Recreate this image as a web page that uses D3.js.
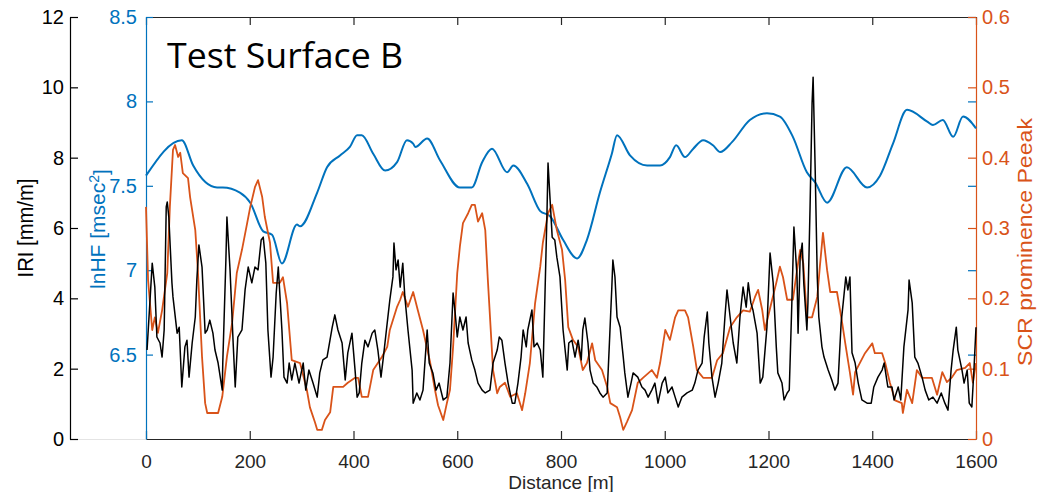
<!DOCTYPE html>
<html><head><meta charset="utf-8">
<script src="https://cdn.jsdelivr.net/npm/d3@7"></script>
<style>
html,body{margin:0;padding:0;background:#fff;}
svg{display:block;font-family:"Liberation Sans",Arial,Helvetica,sans-serif;}
</style>
</head><body>
<svg id="chart" width="1038" height="492"></svg>
<script>
// ---------- data ----------
const titleText = "Test Surface B";
const xTicks = [0, 200, 400, 600, 800, 1000, 1200, 1400, 1600];
const iriTicks = [0, 2, 4, 6, 8, 10, 12];
const hfTicks = [6.5, 7, 7.5, 8, 8.5];
const scrTicks = [0, 0.1, 0.2, 0.3, 0.4, 0.5, 0.6];

// [distance m, lnHF msec^2]
const lnHF = [
 [0,7.56],[69,7.77],[91,7.62],[137,7.49],[148,7.49],[181,7.46],[201,7.40],[226,7.23],[243,7.21],[262,7.04],
 [291,7.27],[297,7.26],[330,7.46],[349,7.61],[374,7.68],[393,7.73],[407,7.80],[416,7.80],[438,7.69],[461,7.59],
 [484,7.64],[503,7.77],[515,7.75],[519,7.73],[542,7.78],[567,7.65],[605,7.49],[628,7.49],[648,7.64],[667,7.72],
 [696,7.58],[708,7.62],[735,7.51],[760,7.35],[779,7.32],[804,7.18],[831,7.07],[850,7.18],[875,7.46],[898,7.69],
 [908,7.80],[933,7.68],[966,7.62],[991,7.62],[1010,7.67],[1022,7.74],[1039,7.67],[1055,7.72],[1074,7.77],[1093,7.74],
 [1107,7.70],[1130,7.76],[1164,7.89],[1197,7.93],[1222,7.91],[1247,7.79],[1274,7.58],[1290,7.52],[1313,7.40],[1351,7.61],
 [1390,7.49],[1415,7.56],[1440,7.75],[1467,7.95],[1506,7.88],[1517,7.86],[1536,7.89],[1556,7.79],[1575,7.91],[1600,7.84]
];

// [distance m, SCR prominence peak]
const scrPeak = [
 [0,0.330],[4,0.226],[12,0.155],[17,0.173],[23,0.151],[31,0.183],[41,0.236],[46,0.330],[52,0.411],[56,0.418],
 [62,0.401],[66,0.407],[71,0.378],[81,0.371],[85,0.344],[95,0.297],[100,0.240],[108,0.117],[114,0.051],[118,0.037],
 [139,0.037],[147,0.060],[156,0.117],[166,0.165],[175,0.236],[185,0.269],[195,0.307],[201,0.330],[210,0.358],[216,0.368],
 [224,0.344],[229,0.316],[239,0.279],[245,0.222],[258,0.222],[264,0.230],[272,0.193],[281,0.112],[297,0.108],[310,0.070],
 [316,0.045],[326,0.023],[330,0.013],[339,0.013],[345,0.027],[355,0.038],[361,0.074],[380,0.074],[389,0.080],[403,0.087],
 [409,0.087],[416,0.060],[428,0.060],[438,0.098],[455,0.117],[465,0.131],[470,0.155],[484,0.188],[490,0.198],[495,0.209],
 [505,0.188],[515,0.209],[524,0.183],[534,0.155],[548,0.108],[557,0.070],[563,0.048],[573,0.027],[580,0.051],[586,0.070],
 [592,0.131],[600,0.236],[605,0.273],[611,0.307],[621,0.321],[628,0.333],[634,0.333],[640,0.309],[648,0.321],[654,0.297],
 [659,0.226],[669,0.098],[677,0.065],[682,0.074],[692,0.080],[702,0.060],[715,0.065],[725,0.041],[731,0.065],[740,0.108],
 [750,0.193],[760,0.245],[765,0.279],[775,0.321],[783,0.333],[792,0.297],[802,0.269],[808,0.226],[814,0.159],[823,0.141],
 [833,0.131],[842,0.098],[850,0.108],[860,0.136],[866,0.112],[879,0.098],[889,0.074],[895,0.051],[908,0.045],[914,0.031],
 [920,0.013],[927,0.024],[937,0.041],[948,0.080],[958,0.087],[975,0.098],[985,0.087],[991,0.108],[1001,0.155],[1010,0.141],
 [1020,0.173],[1026,0.183],[1039,0.183],[1045,0.173],[1055,0.131],[1062,0.098],[1074,0.087],[1091,0.087],[1101,0.112],[1112,0.122],
 [1126,0.159],[1139,0.173],[1151,0.183],[1164,0.181],[1174,0.202],[1180,0.212],[1188,0.183],[1193,0.155],[1207,0.198],[1215,0.222],
 [1222,0.245],[1228,0.230],[1236,0.198],[1247,0.198],[1255,0.240],[1261,0.269],[1267,0.250],[1274,0.173],[1284,0.173],[1294,0.202],
 [1299,0.245],[1305,0.293],[1313,0.240],[1319,0.209],[1332,0.209],[1342,0.165],[1348,0.136],[1357,0.094],[1363,0.063],[1367,0.095],
 [1376,0.108],[1386,0.122],[1400,0.136],[1405,0.122],[1419,0.122],[1425,0.108],[1434,0.080],[1444,0.055],[1457,0.051],[1459,0.037],
 [1467,0.070],[1477,0.051],[1486,0.098],[1496,0.087],[1515,0.087],[1525,0.063],[1535,0.095],[1544,0.081],[1554,0.088],[1563,0.098],
 [1579,0.101],[1588,0.108],[1594,0.080],[1600,0.108]
];

// [distance m, IRI mm/m]
const iri = [
 [2,2.53],[12,5.00],[17,4.32],[21,2.90],[27,2.73],[31,2.33],[35,3.10],[39,6.60],[41,6.74],[44,6.31],
 [50,4.44],[52,4.04],[60,3.01],[64,3.18],[69,1.48],[75,2.62],[79,2.81],[83,1.76],[89,2.73],[95,3.47],
 [98,4.52],[102,5.52],[108,4.89],[114,3.01],[118,3.10],[123,3.38],[129,3.01],[133,2.53],[139,2.16],[147,1.39],
 [148,2.16],[154,5.09],[156,6.31],[162,4.81],[168,2.73],[172,1.48],[177,2.90],[185,3.10],[191,4.24],[197,4.89],
 [204,4.44],[210,4.89],[216,4.81],[222,5.66],[226,5.74],[231,5.00],[235,3.10],[241,1.76],[245,2.33],[251,4.15],
 [255,4.89],[262,3.10],[266,1.76],[272,1.59],[276,2.16],[281,1.68],[287,2.16],[295,1.59],[303,2.16],[308,1.39],
 [314,1.96],[322,1.59],[330,1.19],[335,1.88],[341,2.25],[349,2.33],[359,3.18],[364,3.53],[370,3.10],[378,2.73],
 [384,1.68],[389,2.45],[397,3.01],[403,1.96],[407,1.19],[411,1.31],[416,2.16],[422,2.81],[428,2.62],[436,3.01],
 [441,3.10],[447,2.53],[453,1.76],[457,2.25],[465,3.30],[470,3.95],[476,4.61],[478,5.57],[482,4.81],[486,5.09],
 [490,4.32],[495,5.00],[499,4.04],[505,3.10],[513,1.96],[515,1.02],[522,1.31],[528,1.11],[534,1.39],[542,3.10],
 [546,2.16],[553,1.88],[559,1.39],[565,1.59],[573,1.11],[580,1.19],[586,2.16],[592,4.15],[596,3.58],[600,2.90],
 [605,3.47],[611,3.10],[617,3.47],[621,2.73],[628,2.25],[634,1.96],[640,1.59],[648,1.39],[654,1.31],[663,1.39],
 [669,2.16],[677,2.53],[681,2.90],[686,2.81],[692,2.16],[698,1.59],[706,1.02],[711,1.02],[717,1.59],[723,2.33],
 [727,3.10],[733,2.62],[736,3.10],[744,3.67],[748,2.62],[754,2.73],[760,2.53],[765,1.76],[769,4.04],[773,6.43],
 [775,7.85],[779,6.80],[783,5.74],[788,5.66],[792,5.17],[798,4.61],[804,3.10],[812,1.96],[815,2.73],[821,2.81],
 [827,2.33],[833,2.81],[839,2.25],[842,3.10],[846,3.44],[852,2.73],[856,1.96],[862,1.59],[869,1.48],[875,1.31],
 [881,1.19],[889,1.31],[893,2.62],[898,4.32],[900,5.09],[904,4.61],[908,3.47],[914,3.18],[920,2.33],[923,1.88],
 [929,1.19],[935,1.59],[939,1.88],[948,1.76],[956,1.48],[962,1.39],[968,1.19],[975,1.39],[981,1.59],[987,1.02],
 [995,1.59],[1001,1.76],[1006,1.31],[1014,1.48],[1020,1.19],[1026,0.91],[1033,1.19],[1043,1.31],[1053,1.39],[1058,1.59],
 [1064,1.96],[1072,2.16],[1076,2.90],[1082,3.61],[1085,2.73],[1091,1.76],[1097,1.19],[1103,1.59],[1110,2.16],[1116,3.47],
 [1120,4.24],[1126,3.47],[1132,2.73],[1139,2.16],[1145,3.47],[1151,4.32],[1157,3.75],[1161,4.44],[1166,3.87],[1170,3.67],
 [1178,3.01],[1184,1.59],[1189,1.76],[1197,3.18],[1203,5.29],[1209,4.44],[1215,2.62],[1218,1.88],[1226,1.59],[1230,1.11],
 [1236,1.31],[1240,1.39],[1245,3.87],[1249,6.03],[1255,4.61],[1257,3.01],[1261,5.17],[1265,5.57],[1268,4.44],[1274,3.10],
 [1276,3.87],[1280,6.51],[1284,9.55],[1286,10.29],[1290,7.65],[1294,4.61],[1297,3.47],[1303,2.62],[1307,2.33],[1315,1.96],
 [1322,1.68],[1328,1.39],[1334,1.59],[1340,3.30],[1344,3.87],[1349,4.61],[1353,4.24],[1357,4.61],[1361,2.45],[1367,2.16],
 [1373,1.59],[1380,1.11],[1390,1.02],[1398,1.02],[1403,1.48],[1411,1.76],[1419,1.96],[1423,2.16],[1430,1.48],[1438,1.48],
 [1442,1.11],[1450,1.48],[1455,1.11],[1461,2.62],[1469,3.67],[1471,4.52],[1477,3.87],[1482,2.33],[1488,2.16],[1496,1.76],
 [1502,1.39],[1509,1.11],[1517,1.19],[1525,1.02],[1533,1.31],[1540,1.02],[1546,0.82],[1552,1.96],[1556,2.53],[1562,3.18],
 [1565,2.53],[1573,1.96],[1577,1.59],[1583,1.96],[1587,1.02],[1592,0.91],[1596,1.96],[1600,3.18]
];

// ---------- layout ----------
const svg = d3.select("#chart");
const L = 146, R = 976, T = 17, B = 439, IRI_X = 70;
const BLUE = "#0072BD", ORANGE = "#D95319", AX = "#262626";

const x = d3.scaleLinear().domain([0, 1600]).range([L, R]);
const yIRI = d3.scaleLinear().domain([0, 12]).range([B, T]);
const yHF = d3.scaleLinear().domain([6, 8.5]).range([B, T]);
const ySCR = d3.scaleLinear().domain([0, 0.6]).range([B, T]);

function styleAxis(g, color, size) {
  g.selectAll("path.domain").attr("stroke", color).attr("stroke-width", 1.2);
  g.selectAll(".tick line").attr("stroke", color).attr("stroke-width", 1.2);
  g.selectAll(".tick text").attr("fill", color).style("font-size", size + "px")
    .style("font-family", '"Liberation Sans", Arial, sans-serif');
}

// faint baseline under IRI axis area
svg.append("line").attr("x1", IRI_X).attr("x2", L).attr("y1", B + 0.5).attr("y2", B + 0.5)
  .attr("stroke", "#e4e4e4").attr("stroke-width", 1.2);

// top border with ticks
const gTop = svg.append("g").attr("transform", `translate(0,${T})`)
  .call(d3.axisTop(x).tickValues(xTicks).tickSizeInner(-8).tickSizeOuter(0).tickFormat(""));
styleAxis(gTop, AX, 20);

// bottom axis
const gX = svg.append("g").attr("transform", `translate(0,${B})`)
  .call(d3.axisBottom(x).tickValues(xTicks).tickSizeInner(-8).tickSizeOuter(0).tickPadding(16).tickFormat(d3.format("d")));
styleAxis(gX, AX, 19);

// IRI axis
const gIRI = svg.append("g").attr("transform", `translate(${IRI_X},0)`)
  .call(d3.axisLeft(yIRI).tickValues(iriTicks).tickSizeInner(-8).tickSizeOuter(0).tickPadding(6).tickFormat(d3.format("d")));
styleAxis(gIRI, "#000", 20);

// lnHF axis (blue) on left
const gHF = svg.append("g").attr("transform", `translate(${L},0)`)
  .call(d3.axisLeft(yHF).tickValues(hfTicks).tickSizeInner(-7).tickSizeOuter(0).tickPadding(9).tickFormat(d => String(d)));
styleAxis(gHF, BLUE, 20);

// blue ticks mirrored on right
const gHF2 = svg.append("g").attr("transform", `translate(${R},0)`)
  .call(d3.axisRight(yHF).tickValues(hfTicks).tickSizeInner(-8).tickSizeOuter(0).tickFormat(""));
gHF2.select("path.domain").remove();
styleAxis(gHF2, BLUE, 20);

// SCR axis (orange) on right
const gSCR = svg.append("g").attr("transform", `translate(${R},0)`)
  .call(d3.axisRight(ySCR).tickValues(scrTicks).tickSizeInner(-8).tickSizeOuter(0).tickPadding(6).tickFormat(d => String(+d.toFixed(1))));
styleAxis(gSCR, ORANGE, 20);

// ---------- series ----------
svg.append("path").datum(lnHF)
  .attr("fill", "none").attr("stroke", BLUE).attr("stroke-width", 2)
  .attr("stroke-linejoin", "round")
  .attr("d", d3.line().x(d => x(d[0])).y(d => yHF(d[1])).curve(d3.curveMonotoneX));

svg.append("path").datum(scrPeak)
  .attr("fill", "none").attr("stroke", ORANGE).attr("stroke-width", 1.8)
  .attr("stroke-linejoin", "round")
  .attr("d", d3.line().x(d => x(d[0])).y(d => ySCR(d[1])));

svg.append("path").datum(iri)
  .attr("fill", "none").attr("stroke", "#000").attr("stroke-width", 1.5)
  .attr("stroke-linejoin", "round")
  .attr("d", d3.line().x(d => x(d[0])).y(d => yIRI(d[1])));

// ---------- labels ----------
svg.append("text").attr("x", 167).attr("y", 68)
  .style("font-family", '"Open Sans", "Noto Sans", sans-serif').style("font-size", "35px")
  .attr("textLength", 236).attr("lengthAdjust", "spacingAndGlyphs")
  .attr("fill", "#000").text(titleText);

svg.append("text").attr("transform", "translate(33,228) rotate(-90)")
  .attr("text-anchor", "middle").style("font-size", "22px").attr("fill", "#000")
  .attr("textLength", 99).attr("lengthAdjust", "spacingAndGlyphs")
  .text("IRI [mm/m]");

const hfLab = svg.append("text").attr("transform", "translate(105,229) rotate(-90)")
  .attr("text-anchor", "middle").style("font-size", "21px").attr("fill", BLUE);
hfLab.append("tspan").text("lnHF [msec");
hfLab.append("tspan").attr("dy", "-0.45em").style("font-size", "14px").text("2");
hfLab.append("tspan").attr("dy", "0.45em").text("]");

svg.append("text").attr("transform", "translate(1032,242) rotate(-90)")
  .attr("text-anchor", "middle").style("font-size", "21px").attr("fill", ORANGE)
  .attr("textLength", 248).attr("lengthAdjust", "spacingAndGlyphs")
  .text("SCR prominence Peeak");

svg.append("text").attr("x", 561).attr("y", 489)
  .attr("text-anchor", "middle").style("font-size", "19px").attr("fill", AX)
  .text("Distance [m]");
</script>
</body></html>
